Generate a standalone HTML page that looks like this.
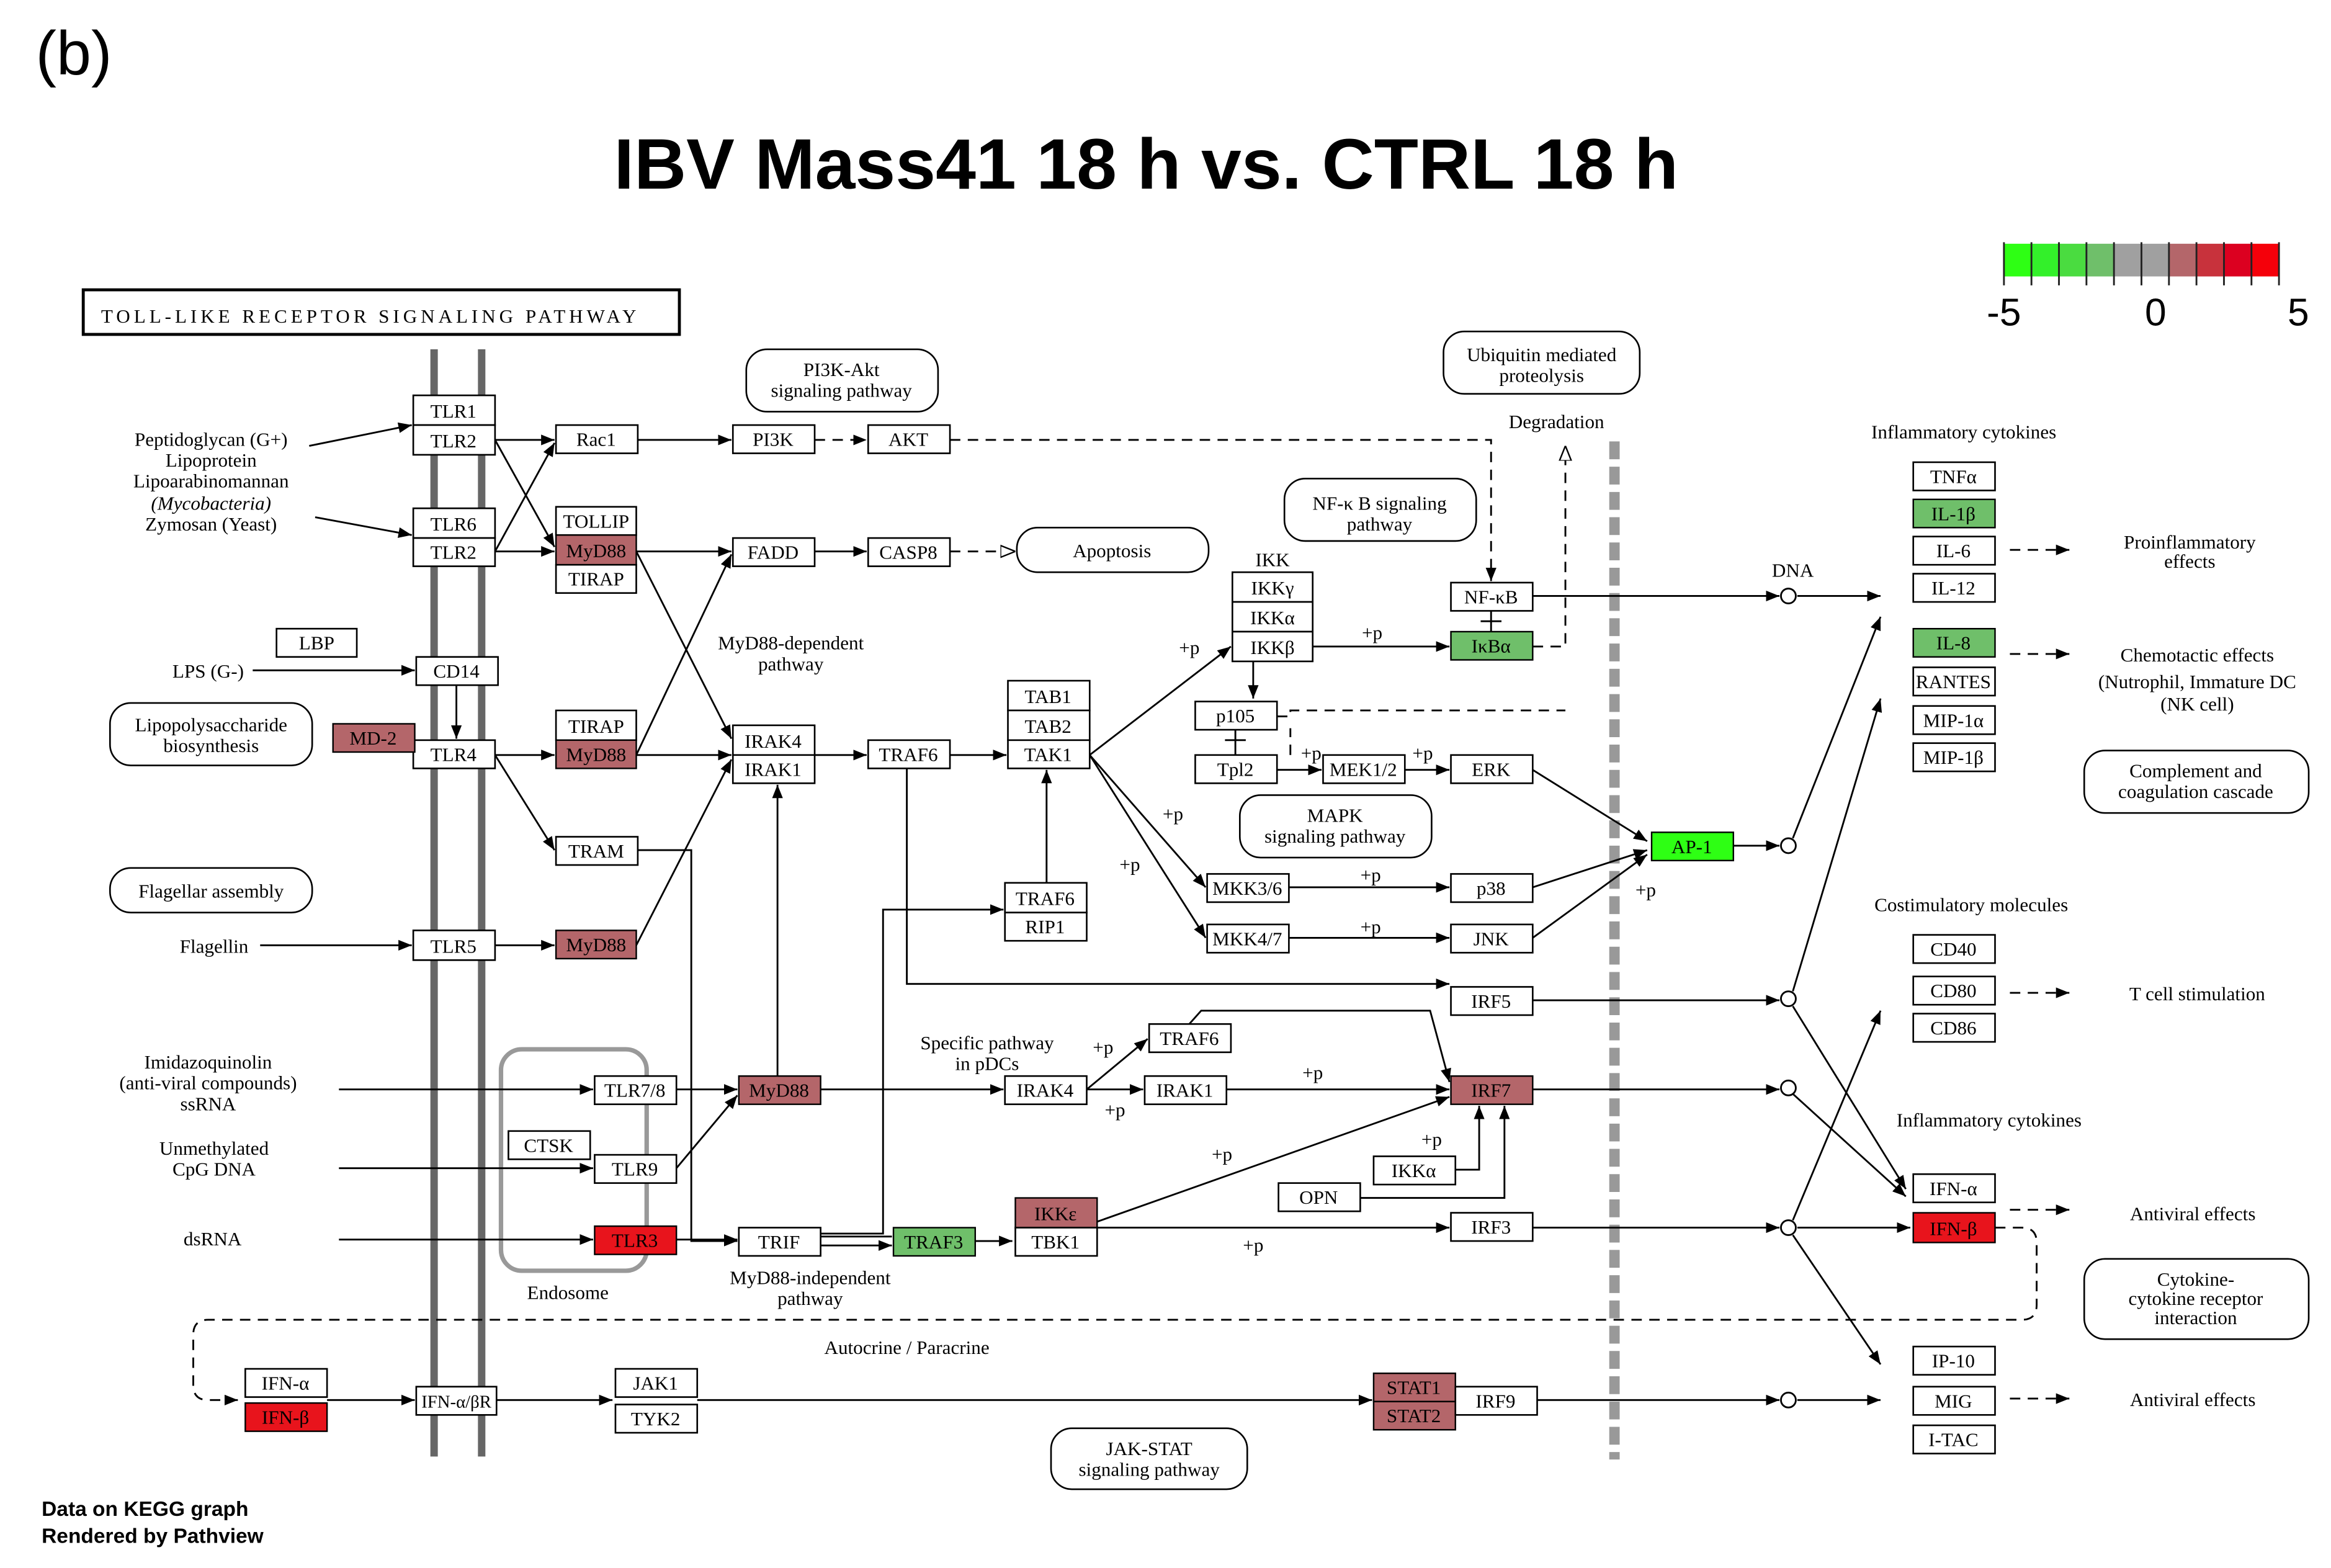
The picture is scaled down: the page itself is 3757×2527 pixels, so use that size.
<!DOCTYPE html>
<html><head><meta charset="utf-8"><style>
html,body{margin:0;padding:0;background:#fff;}
svg{display:block;}
.n{fill:#fff;stroke:#000;stroke-width:1.1;}
.t{font-family:"Liberation Serif",serif;font-size:13px;text-anchor:middle;}
.l{font-family:"Liberation Serif",serif;font-size:13px;}
.e{stroke:#000;stroke-width:1.2;fill:none;}
.d{stroke:#000;stroke-width:1.2;fill:none;stroke-dasharray:7,5;}
.r{fill:#fff;stroke:#000;stroke-width:1.1;}
</style></head><body>
<svg width="3757" height="2527" viewBox="0 0 1568 1055" preserveAspectRatio="none" xmlns="http://www.w3.org/2000/svg">
<defs>
<marker id="a" viewBox="0 0 10 10" refX="10" refY="5" markerWidth="9" markerHeight="9" markerUnits="userSpaceOnUse" orient="auto"><path d="M0,1 L10,5 L0,9 z" fill="#000"/></marker>
<marker id="o" viewBox="0 0 10 10" refX="10" refY="5" markerWidth="10" markerHeight="10" markerUnits="userSpaceOnUse" orient="auto"><path d="M0,1 L10,5 L0,9 z" fill="#fff" stroke="#000"/></marker>
</defs>
<rect width="1568" height="1055" fill="#fff"/>
<text x="24" y="50" font-family="Liberation Sans,sans-serif" font-size="42">(b)</text>
<text x="771" y="127" font-family="Liberation Sans,sans-serif" font-size="48" font-weight="bold" text-anchor="middle" textLength="716" lengthAdjust="spacingAndGlyphs">IBV Mass41 18 h vs. CTRL 18 h</text>
<!-- legend -->
<g>
<rect x="1348" y="164" width="18.5" height="22" fill="#2eff14"/>
<rect x="1366.5" y="164" width="18.5" height="22" fill="#33f02a"/>
<rect x="1385" y="164" width="18.5" height="22" fill="#4adc40"/>
<rect x="1403.5" y="164" width="18.5" height="22" fill="#6fbf6a"/>
<rect x="1422" y="164" width="37" height="22" fill="#a0a0a0"/>
<rect x="1459" y="164" width="18.5" height="22" fill="#b4666a"/>
<rect x="1477.5" y="164" width="18.5" height="22" fill="#c8323c"/>
<rect x="1496" y="164" width="18.5" height="22" fill="#dc0020"/>
<rect x="1514.5" y="164" width="18.5" height="22" fill="#f5000a"/>
<g stroke="#222" stroke-width="1.2">
<line x1="1348" y1="163" x2="1348" y2="192"/><line x1="1366.5" y1="163" x2="1366.5" y2="192"/><line x1="1385" y1="163" x2="1385" y2="192"/><line x1="1403.5" y1="163" x2="1403.5" y2="192"/><line x1="1422" y1="163" x2="1422" y2="192"/><line x1="1440.5" y1="163" x2="1440.5" y2="192"/><line x1="1459" y1="163" x2="1459" y2="192"/><line x1="1477.5" y1="163" x2="1477.5" y2="192"/><line x1="1496" y1="163" x2="1496" y2="192"/><line x1="1514.5" y1="163" x2="1514.5" y2="192"/><line x1="1533" y1="163" x2="1533" y2="192"/>
</g>
<text x="1348" y="219" font-family="Liberation Sans,sans-serif" font-size="26" text-anchor="middle">-5</text>
<text x="1450" y="219" font-family="Liberation Sans,sans-serif" font-size="26" text-anchor="middle">0</text>
<text x="1546" y="219" font-family="Liberation Sans,sans-serif" font-size="26" text-anchor="middle">5</text>
</g>
<!-- title box -->
<rect x="56" y="195" width="401" height="30" fill="#fff" stroke="#000" stroke-width="2"/>
<text x="248" y="217" class="t" font-size="15" textLength="360" lengthAdjust="spacing">TOLL-LIKE RECEPTOR SIGNALING PATHWAY</text>
<!-- membrane lines -->
<line x1="292" y1="235" x2="292" y2="980" stroke="#666" stroke-width="5"/>
<line x1="324" y1="235" x2="324" y2="980" stroke="#666" stroke-width="5"/>
<line x1="1086" y1="297" x2="1086" y2="982" stroke="#999" stroke-width="7" stroke-dasharray="12,5"/>
<!-- endosome -->
<rect x="337" y="706" width="98" height="149" rx="14" fill="none" stroke="#999" stroke-width="3"/>
<text x="382" y="874" class="t">Endosome</text>

<!-- edges -->
<g class="e">
<line x1="208" y1="300" x2="277" y2="286" marker-end="url(#a)"/>
<line x1="212" y1="348" x2="277" y2="360" marker-end="url(#a)"/>
<line x1="333" y1="296" x2="373" y2="296" marker-end="url(#a)"/>
<line x1="333" y1="296" x2="373" y2="368" marker-end="url(#a)"/>
<line x1="333" y1="371" x2="373" y2="298" marker-end="url(#a)"/>
<line x1="333" y1="371" x2="373" y2="371" marker-end="url(#a)"/>
<line x1="170" y1="451" x2="279" y2="451" marker-end="url(#a)"/>
<line x1="307" y1="461" x2="307" y2="497" marker-end="url(#a)"/>
<line x1="333" y1="508" x2="373" y2="508" marker-end="url(#a)"/>
<line x1="333" y1="508" x2="373" y2="572" marker-end="url(#a)"/>
<line x1="175" y1="636" x2="277" y2="636" marker-end="url(#a)"/>
<line x1="333" y1="636" x2="373" y2="636" marker-end="url(#a)"/>
<line x1="429" y1="296" x2="492" y2="296" marker-end="url(#a)"/>
<line x1="428" y1="371" x2="492" y2="371" marker-end="url(#a)"/>
<line x1="428" y1="371" x2="492" y2="497" marker-end="url(#a)"/>
<line x1="428" y1="508" x2="492" y2="373" marker-end="url(#a)"/>
<line x1="428" y1="508" x2="492" y2="508" marker-end="url(#a)"/>
<line x1="428" y1="636" x2="492" y2="511" marker-end="url(#a)"/>
<polyline points="429,572 465,572 465,835 496,835" marker-end="url(#a)"/>
<line x1="548" y1="371" x2="583" y2="371" marker-end="url(#a)"/>
<line x1="548" y1="508" x2="583" y2="508" marker-end="url(#a)"/>
<line x1="639" y1="508" x2="677" y2="508" marker-end="url(#a)"/>
<polyline points="610,517 610,662 975,662" marker-end="url(#a)"/>
<line x1="733" y1="508" x2="828" y2="435" marker-end="url(#a)"/>
<line x1="733" y1="508" x2="811" y2="597" marker-end="url(#a)"/>
<line x1="733" y1="508" x2="811" y2="631" marker-end="url(#a)"/>
<line x1="843" y1="445" x2="843" y2="470" marker-end="url(#a)"/>
<line x1="883" y1="435" x2="975" y2="435" marker-end="url(#a)"/>
<line x1="1003" y1="411" x2="1003" y2="425"/><line x1="996" y1="418" x2="1010" y2="418"/>
<line x1="831" y1="491" x2="831" y2="508"/><line x1="824" y1="498" x2="838" y2="498"/>
<line x1="859" y1="518" x2="889" y2="518" marker-end="url(#a)"/>
<line x1="945" y1="518" x2="975" y2="518" marker-end="url(#a)"/>
<line x1="867" y1="597" x2="975" y2="597" marker-end="url(#a)"/>
<line x1="867" y1="631" x2="975" y2="631" marker-end="url(#a)"/>
<line x1="1031" y1="518" x2="1108" y2="566" marker-end="url(#a)"/>
<line x1="1031" y1="597" x2="1108" y2="572" marker-end="url(#a)"/>
<line x1="1031" y1="631" x2="1108" y2="575" marker-end="url(#a)"/>
<line x1="1031" y1="401" x2="1197" y2="401" marker-end="url(#a)"/>
<line x1="1166" y1="569" x2="1197" y2="569" marker-end="url(#a)"/>
<line x1="1031" y1="673" x2="1197" y2="673" marker-end="url(#a)"/>
<line x1="1031" y1="733" x2="1197" y2="733" marker-end="url(#a)"/>
<line x1="1031" y1="826" x2="1197" y2="826" marker-end="url(#a)"/>
<line x1="1034" y1="942" x2="1197" y2="942" marker-end="url(#a)"/>
<line x1="1209" y1="401" x2="1265" y2="401" marker-end="url(#a)"/>
<line x1="1206" y1="564" x2="1265" y2="415" marker-end="url(#a)"/>
<line x1="1206" y1="667" x2="1265" y2="470" marker-end="url(#a)"/>
<line x1="1206" y1="821" x2="1265" y2="680" marker-end="url(#a)"/>
<line x1="1206" y1="736" x2="1282" y2="805" marker-end="url(#a)"/>
<line x1="1206" y1="677" x2="1282" y2="800" marker-end="url(#a)"/>
<line x1="1209" y1="826" x2="1285" y2="826" marker-end="url(#a)"/>
<line x1="1206" y1="831" x2="1265" y2="918" marker-end="url(#a)"/>
<line x1="1209" y1="942" x2="1265" y2="942" marker-end="url(#a)"/>
<line x1="228" y1="733" x2="399" y2="733" marker-end="url(#a)"/>
<line x1="228" y1="786" x2="399" y2="786" marker-end="url(#a)"/>
<line x1="228" y1="834" x2="399" y2="834" marker-end="url(#a)"/>
<line x1="455" y1="733" x2="496" y2="733" marker-end="url(#a)"/>
<line x1="455" y1="786" x2="496" y2="737" marker-end="url(#a)"/>
<line x1="455" y1="834" x2="496" y2="834" marker-end="url(#a)"/>
<line x1="523" y1="724" x2="523" y2="528" marker-end="url(#a)"/>
<line x1="552" y1="733" x2="675" y2="733" marker-end="url(#a)"/>
<line x1="731" y1="733" x2="769" y2="733" marker-end="url(#a)"/>
<line x1="731" y1="733" x2="772" y2="699" marker-end="url(#a)"/>
<line x1="825" y1="733" x2="975" y2="733" marker-end="url(#a)"/>
<polyline points="800,689 808,680 962,680 975,728" marker-end="url(#a)"/>
<line x1="738" y1="822" x2="975" y2="738" marker-end="url(#a)"/>
<line x1="738" y1="826" x2="975" y2="826" marker-end="url(#a)"/>
<polyline points="979,787 995,787 995,744" marker-end="url(#a)"/>
<polyline points="915,806 1012,806 1012,744" marker-end="url(#a)"/>
<line x1="552" y1="832" x2="600" y2="832"/><line x1="552" y1="838" x2="600" y2="838" marker-end="url(#a)"/>
<line x1="656" y1="835" x2="681" y2="835" marker-end="url(#a)"/>
<polyline points="552,830 594,830 594,612 675,612" marker-end="url(#a)"/>
<line x1="704" y1="594" x2="704" y2="518" marker-end="url(#a)"/>
<line x1="220" y1="942" x2="279" y2="942" marker-end="url(#a)"/>
<line x1="334" y1="942" x2="412" y2="942" marker-end="url(#a)"/>
<line x1="469" y1="942" x2="923" y2="942" marker-end="url(#a)"/>
</g>
<g class="d">
<line x1="548" y1="296" x2="583" y2="296" marker-end="url(#a)"/>
<polyline points="639,296 1003,296 1003,391" marker-end="url(#a)"/>
<line x1="639" y1="371" x2="683" y2="371" marker-end="url(#o)"/>
<polyline points="1031,435 1053,435 1053,300" marker-end="url(#o)"/>
<polyline points="859,482 868,482 868,478 1053,478"/>
<polyline points="868,508 868,490"/>
<line x1="1352" y1="370" x2="1392" y2="370" marker-end="url(#a)"/>
<line x1="1352" y1="440" x2="1392" y2="440" marker-end="url(#a)"/>
<line x1="1352" y1="668" x2="1392" y2="668" marker-end="url(#a)"/>
<line x1="1352" y1="814" x2="1392" y2="814" marker-end="url(#a)"/>
<line x1="1352" y1="941" x2="1392" y2="941" marker-end="url(#a)"/>
<path d="M1342,826 L1360,826 Q1370,826 1370,836 L1370,878 Q1370,888 1360,888 L140,888 Q130,888 130,898 L130,932 Q130,942 140,942 L160,942" marker-end="url(#a)"/>
</g>
<!-- circles -->
<g fill="#fff" stroke="#000" stroke-width="1.2">
<circle cx="1203" cy="401" r="5"/><circle cx="1203" cy="569" r="5"/><circle cx="1203" cy="672" r="5"/><circle cx="1203" cy="732" r="5"/><circle cx="1203" cy="826" r="5"/><circle cx="1203" cy="942" r="5"/>
</g>

<!-- rounded maps -->
<g class="r">
<rect x="502" y="235" width="129" height="42" rx="14"/>
<rect x="684" y="355" width="129" height="30" rx="14"/>
<rect x="971" y="223" width="132" height="42" rx="14"/>
<rect x="864" y="322" width="129" height="42" rx="14"/>
<rect x="834" y="535" width="129" height="42" rx="14"/>
<rect x="74" y="473" width="136" height="42" rx="14"/>
<rect x="74" y="584" width="136" height="30" rx="14"/>
<rect x="707" y="961" width="132" height="41" rx="14"/>
<rect x="1402" y="505" width="151" height="42" rx="14"/>
<rect x="1402" y="847" width="151" height="54" rx="14"/>
</g>
<g class="t">
<text x="566" y="253">PI3K-Akt</text><text x="566" y="267">signaling pathway</text>
<text x="748" y="375">Apoptosis</text>
<text x="1037" y="243">Ubiquitin mediated</text><text x="1037" y="257">proteolysis</text>
<text x="928" y="343">NF-κ B signaling</text><text x="928" y="357">pathway</text>
<text x="898" y="553">MAPK</text><text x="898" y="567">signaling pathway</text>
<text x="142" y="492">Lipopolysaccharide</text><text x="142" y="506">biosynthesis</text>
<text x="142" y="604">Flagellar assembly</text>
<text x="773" y="979">JAK-STAT</text><text x="773" y="993">signaling pathway</text>
<text x="1477" y="523">Complement and</text><text x="1477" y="537">coagulation cascade</text>
<text x="1477" y="865">Cytokine-</text><text x="1477" y="878">cytokine receptor</text><text x="1477" y="891">interaction</text>
</g>

<!-- nodes -->
<g font-family="Liberation Serif,serif" font-size="13" text-anchor="middle">
<rect class="n" x="278" y="266" width="55" height="20"/><text x="305" y="281">TLR1</text>
<rect class="n" x="278" y="286" width="55" height="20"/><text x="305" y="301">TLR2</text>
<rect class="n" x="278" y="342" width="55" height="20"/><text x="305" y="357">TLR6</text>
<rect class="n" x="278" y="362" width="55" height="19"/><text x="305" y="376">TLR2</text>
<rect class="n" x="280" y="442" width="55" height="19"/><text x="307" y="456">CD14</text>
<rect class="n" x="278" y="498" width="55" height="19"/><text x="305" y="512">TLR4</text>
<rect class="n" x="278" y="626" width="55" height="20"/><text x="305" y="641">TLR5</text>
<rect class="n" x="280" y="933" width="54" height="19"/><text x="307" y="947" font-size="12">IFN-α/βR</text>
<rect class="n" x="374" y="286" width="55" height="19"/><text x="401" y="300">Rac1</text>
<rect class="n" x="374" y="341" width="54" height="19"/><text x="401" y="355">TOLLIP</text>
<rect x="374" y="360" width="54" height="20" fill="#b4666a" stroke="#000"/><text x="401" y="375">MyD88</text>
<rect class="n" x="374" y="380" width="54" height="19"/><text x="401" y="394">TIRAP</text>
<rect class="n" x="374" y="478" width="54" height="20"/><text x="401" y="493">TIRAP</text>
<rect x="374" y="498" width="54" height="19" fill="#b4666a" stroke="#000"/><text x="401" y="512">MyD88</text>
<rect class="n" x="374" y="563" width="55" height="19"/><text x="401" y="577">TRAM</text>
<rect x="374" y="626" width="54" height="19" fill="#b4666a" stroke="#000"/><text x="401" y="640">MyD88</text>
<rect class="n" x="186" y="423" width="54" height="19"/><text x="213" y="437">LBP</text>
<rect x="224" y="487" width="55" height="19" fill="#b4666a" stroke="#000"/><text x="251" y="501">MD-2</text>
<rect class="n" x="493" y="286" width="55" height="19"/><text x="520" y="300">PI3K</text>
<rect class="n" x="584" y="286" width="55" height="19"/><text x="611" y="300">AKT</text>
<rect class="n" x="493" y="362" width="55" height="19"/><text x="520" y="376">FADD</text>
<rect class="n" x="584" y="362" width="55" height="19"/><text x="611" y="376">CASP8</text>
<rect class="n" x="493" y="488" width="55" height="20"/><text x="520" y="503">IRAK4</text>
<rect class="n" x="493" y="508" width="55" height="19"/><text x="520" y="522">IRAK1</text>
<rect class="n" x="584" y="498" width="55" height="19"/><text x="611" y="512">TRAF6</text>
<rect class="n" x="678" y="458" width="55" height="20"/><text x="705" y="473">TAB1</text>
<rect class="n" x="678" y="478" width="55" height="20"/><text x="705" y="493">TAB2</text>
<rect class="n" x="678" y="498" width="55" height="19"/><text x="705" y="512">TAK1</text>
<rect class="n" x="676" y="594" width="55" height="20"/><text x="703" y="609">TRAF6</text>
<rect class="n" x="676" y="614" width="55" height="19"/><text x="703" y="628">RIP1</text>
<text x="856" y="381">IKK</text>
<rect class="n" x="829" y="385" width="54" height="20"/><text x="856" y="400">IKKγ</text>
<rect class="n" x="829" y="405" width="54" height="20"/><text x="856" y="420">IKKα</text>
<rect class="n" x="829" y="425" width="54" height="20"/><text x="856" y="440">IKKβ</text>
<rect class="n" x="804" y="472" width="55" height="19"/><text x="831" y="486">p105</text>
<rect class="n" x="804" y="508" width="55" height="19"/><text x="831" y="522">Tpl2</text>
<rect class="n" x="890" y="508" width="55" height="19"/><text x="917" y="522">MEK1/2</text>
<rect class="n" x="976" y="508" width="55" height="19"/><text x="1003" y="522">ERK</text>
<rect class="n" x="812" y="588" width="55" height="19"/><text x="839" y="602">MKK3/6</text>
<rect class="n" x="976" y="588" width="55" height="19"/><text x="1003" y="602">p38</text>
<rect class="n" x="812" y="622" width="55" height="19"/><text x="839" y="636">MKK4/7</text>
<rect class="n" x="976" y="622" width="55" height="19"/><text x="1003" y="636">JNK</text>
<rect class="n" x="976" y="392" width="55" height="19"/><text x="1003" y="406">NF-κB</text>
<rect x="976" y="425" width="55" height="19" fill="#6fbf6a" stroke="#000"/><text x="1003" y="439">IκBα</text>
<rect x="1111" y="560" width="55" height="19" fill="#2eff14" stroke="#000"/><text x="1138" y="574">AP-1</text>
<rect class="n" x="976" y="664" width="55" height="19"/><text x="1003" y="678">IRF5</text>
<rect class="n" x="773" y="689" width="55" height="19"/><text x="800" y="703">TRAF6</text>
<rect class="n" x="770" y="724" width="55" height="19"/><text x="797" y="738">IRAK1</text>
<rect class="n" x="676" y="724" width="55" height="19"/><text x="703" y="738">IRAK4</text>
<rect x="976" y="724" width="55" height="19" fill="#b4666a" stroke="#000"/><text x="1003" y="738">IRF7</text>
<rect class="n" x="400" y="724" width="55" height="19"/><text x="427" y="738">TLR7/8</text>
<rect x="497" y="724" width="55" height="19" fill="#b4666a" stroke="#000"/><text x="524" y="738">MyD88</text>
<rect class="n" x="342" y="761" width="55" height="19"/><text x="369" y="775">CTSK</text>
<rect class="n" x="400" y="777" width="55" height="19"/><text x="427" y="791">TLR9</text>
<rect x="400" y="825" width="55" height="19" fill="#e8141c" stroke="#000"/><text x="427" y="839">TLR3</text>
<rect class="n" x="497" y="826" width="55" height="19"/><text x="524" y="840">TRIF</text>
<rect x="601" y="826" width="55" height="19" fill="#6fbf6a" stroke="#000"/><text x="628" y="840">TRAF3</text>
<rect x="683" y="806" width="55" height="20" fill="#b4666a" stroke="#000"/><text x="710" y="821">IKKε</text>
<rect class="n" x="683" y="826" width="55" height="19"/><text x="710" y="840">TBK1</text>
<rect class="n" x="924" y="778" width="55" height="19"/><text x="951" y="792">IKKα</text>
<rect class="n" x="860" y="796" width="55" height="19"/><text x="887" y="810">OPN</text>
<rect class="n" x="976" y="816" width="55" height="19"/><text x="1003" y="830">IRF3</text>
<rect class="n" x="165" y="921" width="55" height="19"/><text x="192" y="935">IFN-α</text>
<rect x="165" y="944" width="55" height="19" fill="#e8141c" stroke="#000"/><text x="192" y="958">IFN-β</text>
<rect class="n" x="414" y="921" width="55" height="19"/><text x="441" y="935">JAK1</text>
<rect class="n" x="414" y="945" width="55" height="19"/><text x="441" y="959">TYK2</text>
<rect x="924" y="924" width="55" height="19" fill="#b4666a" stroke="#000"/><text x="951" y="938">STAT1</text>
<rect x="924" y="943" width="55" height="19" fill="#b4666a" stroke="#000"/><text x="951" y="957">STAT2</text>
<rect class="n" x="979" y="933" width="55" height="19"/><text x="1006" y="947">IRF9</text>
<rect class="n" x="1287" y="311" width="55" height="19"/><text x="1314" y="325">TNFα</text>
<rect x="1287" y="336" width="55" height="19" fill="#6fbf6a" stroke="#000"/><text x="1314" y="350">IL-1β</text>
<rect class="n" x="1287" y="361" width="55" height="19"/><text x="1314" y="375">IL-6</text>
<rect class="n" x="1287" y="386" width="55" height="19"/><text x="1314" y="400">IL-12</text>
<rect x="1287" y="423" width="55" height="19" fill="#6fbf6a" stroke="#000"/><text x="1314" y="437">IL-8</text>
<rect class="n" x="1287" y="449" width="55" height="19"/><text x="1314" y="463">RANTES</text>
<rect class="n" x="1287" y="475" width="55" height="19"/><text x="1314" y="489">MIP-1α</text>
<rect class="n" x="1287" y="500" width="55" height="19"/><text x="1314" y="514">MIP-1β</text>
<rect class="n" x="1287" y="629" width="55" height="19"/><text x="1314" y="643">CD40</text>
<rect class="n" x="1287" y="657" width="55" height="19"/><text x="1314" y="671">CD80</text>
<rect class="n" x="1287" y="682" width="55" height="19"/><text x="1314" y="696">CD86</text>
<rect class="n" x="1287" y="790" width="55" height="19"/><text x="1314" y="804">IFN-α</text>
<rect x="1287" y="816" width="55" height="20" fill="#e8141c" stroke="#000"/><text x="1314" y="831">IFN-β</text>
<rect class="n" x="1287" y="906" width="55" height="19"/><text x="1314" y="920">IP-10</text>
<rect class="n" x="1287" y="933" width="55" height="19"/><text x="1314" y="947">MIG</text>
<rect class="n" x="1287" y="959" width="55" height="19"/><text x="1314" y="973">I-TAC</text>
</g>

<!-- labels -->
<g class="t">
<text x="142" y="300">Peptidoglycan (G+)</text>
<text x="142" y="314">Lipoprotein</text>
<text x="142" y="328">Lipoarabinomannan</text>
<text x="142" y="343" font-style="italic">(Mycobacteria)</text>
<text x="142" y="357">Zymosan (Yeast)</text>
<text x="140" y="456">LPS (G-)</text>
<text x="144" y="641">Flagellin</text>
<text x="140" y="719">Imidazoquinolin</text>
<text x="140" y="733">(anti-viral compounds)</text>
<text x="140" y="747">ssRNA</text>
<text x="144" y="777">Unmethylated</text>
<text x="144" y="791">CpG DNA</text>
<text x="143" y="838">dsRNA</text>
<text x="532" y="437">MyD88-dependent</text>
<text x="532" y="451">pathway</text>
<text x="545" y="864">MyD88-independent</text>
<text x="545" y="878">pathway</text>
<text x="664" y="706">Specific pathway</text>
<text x="664" y="720">in pDCs</text>
<text x="610" y="911">Autocrine / Paracrine</text>
<text x="1047" y="288">Degradation</text>
<text x="1206" y="388">DNA</text>
<text x="1321" y="295">Inflammatory cytokines</text>
<text x="1473" y="369">Proinflammatory</text>
<text x="1473" y="382">effects</text>
<text x="1478" y="445">Chemotactic effects</text>
<text x="1478" y="463">(Nutrophil, Immature DC</text>
<text x="1478" y="478">(NK cell)</text>
<text x="1326" y="613">Costimulatory molecules</text>
<text x="1478" y="673">T cell stimulation</text>
<text x="1338" y="758">Inflammatory cytokines</text>
<text x="1475" y="821">Antiviral effects</text>
<text x="1475" y="946">Antiviral effects</text>
<text x="800" y="440">+p</text><text x="923" y="430">+p</text>
<text x="882" y="511">+p</text><text x="957" y="511">+p</text>
<text x="789" y="552">+p</text><text x="760" y="586">+p</text>
<text x="922" y="593">+p</text><text x="922" y="628">+p</text>
<text x="1107" y="603">+p</text>
<text x="742" y="709">+p</text><text x="750" y="751">+p</text>
<text x="883" y="726">+p</text><text x="822" y="781">+p</text>
<text x="963" y="771">+p</text><text x="843" y="842">+p</text>
</g>
<text x="28" y="1020" font-family="Liberation Sans,sans-serif" font-size="14" font-weight="bold">Data on KEGG graph</text>
<text x="28" y="1038" font-family="Liberation Sans,sans-serif" font-size="14" font-weight="bold">Rendered by Pathview</text>
</svg>
</body></html>
